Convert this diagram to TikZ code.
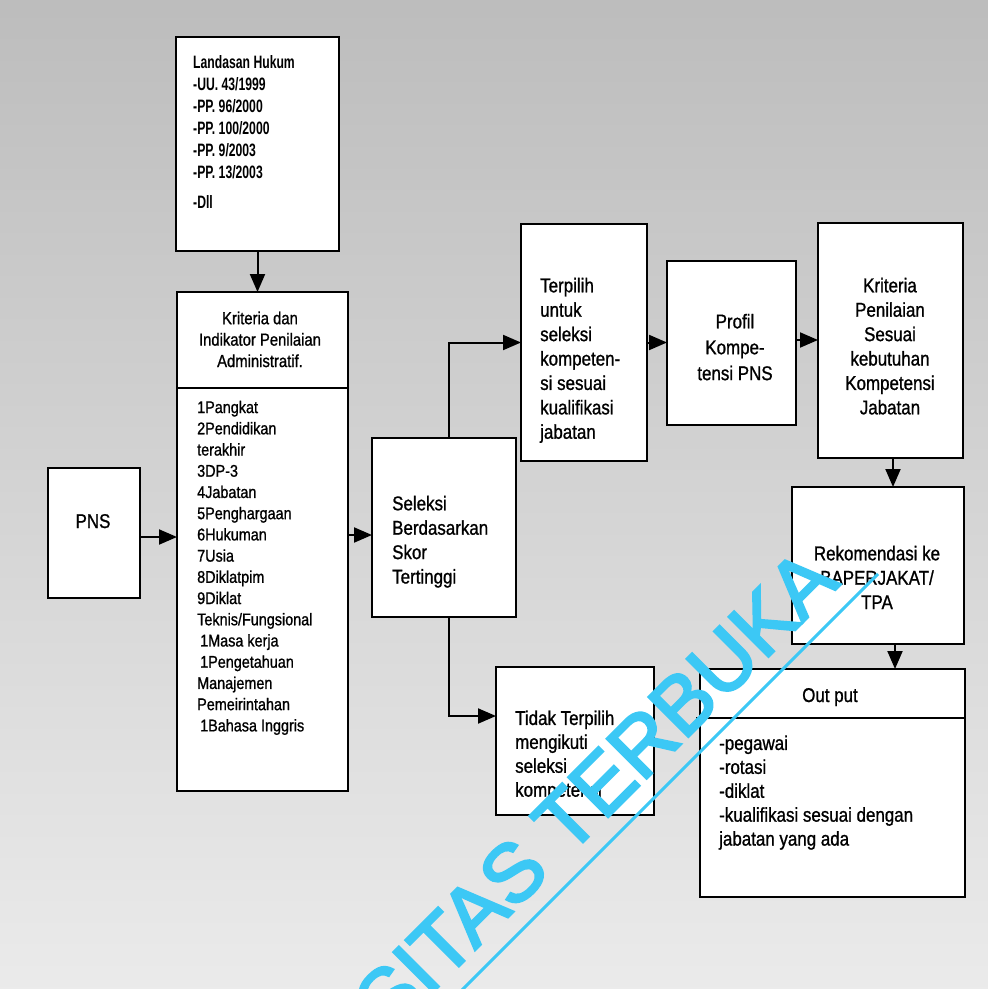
\documentclass[tikz,border=0pt]{standalone}
\usepackage{fontspec}
\setmainfont{Liberation Sans}[FakeStretch=0.85,FakeBold=1]
\newfontfamily\lawfont{Liberation Sans}[FakeStretch=0.68]
\newfontfamily\wmfont{Liberation Sans}[FakeBold=3]
\usetikzlibrary{arrows.meta}

\definecolor{wmcyan}{RGB}{60,200,245}

\begin{document}
\begin{tikzpicture}[x=1bp,y=-1bp,
  box/.style={draw=black, line width=2.2bp, fill=white, inner sep=0pt, outer sep=0pt},
  txt/.style={inner sep=0pt, font=\fontsize{20}{24.5}\selectfont},
  lst/.style={inner sep=0pt, align=left, font=\fontsize{17}{21.3}\selectfont},
  lawtxt/.style={inner sep=0pt, align=left, font=\lawfont\bfseries\fontsize{18}{22}\selectfont},
  arr/.style={line width=2bp, -{Triangle[length=18bp,width=15bp]}},
  wm/.style={inner sep=0pt, text=wmcyan, font=\wmfont\fontsize{82}{82}\selectfont}
]
\useasboundingbox (0,0) rectangle (988,989);
\clip (0,0) rectangle (988,989);
% grainy grey paper
\shade[top color=black!26, bottom color=black!8] (0,0) rectangle (988,989);

% boxes
\node[box, minimum width=163bp, minimum height=214bp] (landasan) at (257.5,144) {};
\node[box, minimum width=171bp, minimum height=499bp] (kriteria) at (262.5,541.5) {};
\node[box, minimum width=92bp,  minimum height=130bp] (pns) at (94,533) {};
\node[box, minimum width=144bp, minimum height=179bp] (seleksi) at (444,527.5) {};
\node[box, minimum width=126bp, minimum height=237bp] (terpilih) at (584,342.5) {};
\node[box, minimum width=129bp, minimum height=164bp] (profil) at (731.5,343) {};
\node[box, minimum width=145bp, minimum height=235bp] (kritpen) at (890.5,340.5) {};
\node[box, minimum width=172bp, minimum height=157bp] (rekom) at (878,565.5) {};
\node[box, minimum width=265bp, minimum height=228bp] (output) at (832.5,783) {};
\node[box, minimum width=158bp, minimum height=148bp] (tidak) at (575,741) {};

% header separators
\draw[line width=2bp] ([yshift=-96bp]kriteria.north west) -- ([yshift=-96bp]kriteria.north east);
\draw[line width=2bp] ([xshift=-4bp,yshift=-49bp]output.north west) -- ([yshift=-49bp]output.north east);

% texts
\node[lawtxt, anchor=north west] (landasantext) at (193,53)
  {\strut Landasan Hukum\\-UU. 43/1999\\-PP. 96/2000\\-PP. 100/2000\\-PP. 9/2003\\-PP. 13/2003\\[8bp]-Dll};
\node[inner sep=0pt, align=center, anchor=north, font=\fontsize{17.5}{21.5}\selectfont] (kritheader) at (260,309)
  {\strut Kriteria dan\\Indikator Penilaian\\Administratif.};
\node[lst, anchor=north west] (kritlist) at (197,398)
  {\strut 1Pangkat\\2Pendidikan\\terakhir\\3DP-3\\4Jabatan\\5Penghargaan\\6Hukuman\\7Usia\\8Diklatpim\\9Diklat\\Teknis/Fungsional\\\hspace*{3bp}1Masa kerja\\\hspace*{3bp}1Pengetahuan\\Manajemen\\Pemeirintahan\\\hspace*{3bp}1Bahasa Inggris};
\node[txt, anchor=base] (pnstext) at (93,528) {PNS};
\node[txt, align=left, anchor=north west] (seleksitext) at (392,493)
  {\strut Seleksi\\Berdasarkan\\Skor\\Tertinggi};
\node[txt, align=left, anchor=north west] (terpilihtext) at (540,275)
  {\strut Terpilih\\untuk\\seleksi\\kompeten-\\si sesuai\\kualifikasi\\jabatan};
\node[inner sep=0pt, align=center, anchor=north, font=\fontsize{20}{26}\selectfont] (profiltext) at (735,310)
  {\strut Profil\\Kompe-\\tensi PNS};
\node[txt, align=center, anchor=north] (kritpentext) at (890,275)
  {\strut Kriteria\\Penilaian\\Sesuai\\kebutuhan\\Kompetensi\\Jabatan};
\node[txt, align=center, anchor=north] (rekomtext) at (877,543)
  {\strut Rekomendasi ke\\BAPERJAKAT/\\TPA};
\node[txt, anchor=base] (outputtitle) at (830,702) {Out put};
\node[inner sep=0pt, align=left, anchor=north west, font=\fontsize{20}{24}\selectfont] (outputtext) at (719,733)
  {\strut -pegawai\\-rotasi\\-diklat\\-kualifikasi sesuai dengan\\jabatan yang ada};
\node[inner sep=0pt, align=left, anchor=north west, font=\fontsize{20}{24}\selectfont] (tidaktext) at (515,708)
  {\strut Tidak Terpilih\\mengikuti\\seleksi\\kompetensi};

% connectors
\coordinate (pnsout) at ([yshift=-4bp]pns.east);
\coordinate (kritout) at ([yshift=-7.5bp]seleksi.west);
\coordinate (selup) at ([xshift=5bp]seleksi.north);
\coordinate (seldown) at ([xshift=5bp]seleksi.south);
\coordinate (tidakin) at ([yshift=25bp]tidak.west);
\coordinate (profout) at ([yshift=3bp]profil.east);
\coordinate (kpout) at ([xshift=2.5bp]kritpen.south);
\coordinate (rkout) at ([xshift=17bp]rekom.south);

\draw[arr] (landasan.south) -- (landasan.south |- kriteria.north);
\draw[arr] (pnsout) -- (pnsout -| kriteria.west);
\draw[arr] (kritout -| kriteria.east) -- (kritout);
\draw[arr] (selup) |- (terpilih.west);
\draw[arr] (seldown) |- (tidakin);
\draw[arr] (terpilih.east) -- (terpilih.east -| profil.west);
\draw[arr] (profout) -- (profout -| kritpen.west);
\draw[arr] (kpout) -- (kpout |- rekom.north);
\draw[arr] (rkout) -- (rkout |- output.north);

% watermark
\node[wm, rotate=45, anchor=base east] (wmark) at (841,584) {UNIVERSITAS TERBUKA};
\coordinate (wmlinetop) at (878,574);
\coordinate (wmlinebot) at (380,1072);
\draw[wmcyan, line width=3bp] (wmlinetop) -- (wmlinebot);
\end{tikzpicture}
\end{document}
